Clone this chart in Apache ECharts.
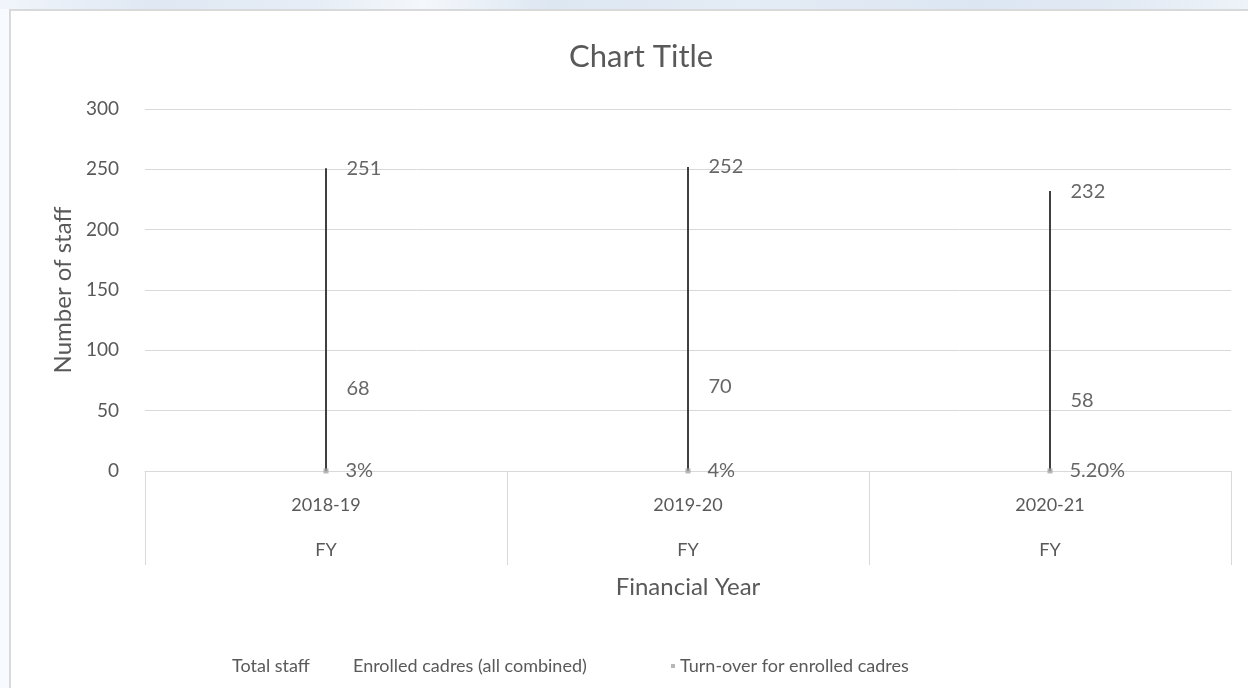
<!DOCTYPE html>
<html>
<head>
<meta charset="utf-8">
<script src="https://cdn.jsdelivr.net/npm/echarts@6/dist/echarts.min.js"></script>
<style>
  html, body { margin: 0; padding: 0; width: 1248px; height: 688px; overflow: hidden; }
  body {
    background: #f7faff;
    position: relative;
  }
  #band {
    position: absolute; left: 0; top: 0; width: 1248px; height: 9px;
    background: linear-gradient(90deg, #f1f5fb 0%, #dfe8f3 12%, #e6edf6 25%, #f4f7fb 34%, #dde7f2 44%, #e4ecf5 60%, #dce6f2 78%, #e2eaf4 90%, #eef3f9 100%);
  }
  #frame {
    position: absolute; left: 9px; top: 9px; right: 0; bottom: 0;
    background: #ffffff;
    border-top: 2px solid #d9d9d9;
    border-left: 2px solid #d9d9d9;
  }
  #chart { position: absolute; left: 0; top: 0; width: 1248px; height: 688px; }
</style>
</head>
<body>
<div id="band"></div>
<div id="frame"></div>
<div id="chart"></div>
<script>
// Financial years and the outer "FY" grouping row
const years = ['2018-19', '2019-20', '2020-21'];
const yearGroups = ['FY', 'FY', 'FY'];

// Staff counts per year
const totalStaff = [251, 252, 232];
const enrolledCadres = [68, 70, 58];

// Turn-over rate for enrolled cadres (fraction) and decimals shown in its labels
const turnover = [0.03, 0.04, 0.052];
const turnoverDecimals = [0, 0, 2];

// Value axis ticks
const yTicks = [0, 50, 100, 150, 200, 250, 300];

const FONT = 'Lato, "Open Sans", sans-serif';
const TEXT = '#595959';
const LABEL = '#404040';
const GRID = '#d9d9d9';

// High-low line per year: from lowest to highest of the three series
const hiLo = years.map((_, i) => {
  const vals = [totalStaff[i], enrolledCadres[i], turnover[i]];
  return [i, Math.min.apply(null, vals), Math.max.apply(null, vals)];
});

const chart = echarts.init(document.getElementById('chart'), null, { renderer: 'canvas' });

const labelStyle = {
  show: true,
  position: 'right',
  distance: 20,
  color: LABEL,
  fontFamily: FONT,
  fontSize: 20
};

const legendText = { fontFamily: FONT, fontSize: 18, color: TEXT };

const option = {
  animation: false,
  backgroundColor: 'transparent',
  textStyle: { fontFamily: FONT },
  title: {
    text: 'Chart Title',
    left: 564,
    top: 36,
    textStyle: { fontFamily: FONT, fontSize: 31, fontWeight: 'normal', color: TEXT }
  },
  legend: [
    {
      data: [{ name: 'Total staff', icon: 'none' }],
      left: 222, top: 652, itemWidth: 0, itemHeight: 5, itemGap: 0,
      textStyle: legendText,
      selectedMode: false
    },
    {
      data: [{ name: 'Enrolled cadres (all combined)', icon: 'none' }],
      left: 343, top: 652, itemWidth: 0, itemHeight: 5, itemGap: 0,
      textStyle: legendText,
      selectedMode: false
    },
    {
      data: [{ name: 'Turn-over for enrolled cadres', icon: 'rect' }],
      left: 666, top: 652, itemWidth: 4, itemHeight: 4, itemGap: 0,
      textStyle: legendText,
      selectedMode: false
    }
  ],
  grid: { left: 145, right: 17, top: 109, bottom: 217, containLabel: false },
  xAxis: [
    {
      type: 'category',
      data: years,
      boundaryGap: true,
      axisLine: { show: true, lineStyle: { color: GRID, width: 1 } },
      axisTick: { show: true, length: 94, interval: 0, lineStyle: { color: GRID, width: 1 } },
      axisLabel: { margin: 25, fontFamily: FONT, fontSize: 18, color: TEXT, interval: 0 },
      splitLine: { show: false }
    },
    {
      type: 'category',
      data: yearGroups,
      position: 'bottom',
      gridIndex: 0,
      boundaryGap: true,
      axisLine: { show: false },
      axisTick: { show: false },
      axisLabel: { margin: 70, fontFamily: FONT, fontSize: 18, color: TEXT, interval: 0 },
      splitLine: { show: false },
      name: 'Financial Year',
      nameLocation: 'middle',
      nameGap: 104,
      nameTextStyle: { fontFamily: FONT, fontSize: 24, color: TEXT }
    }
  ],
  yAxis: {
    type: 'value',
    min: yTicks[0],
    max: yTicks[yTicks.length - 1],
    interval: yTicks[1] - yTicks[0],
    axisLine: { show: false },
    axisTick: { show: false },
    axisLabel: { margin: 26, fontFamily: FONT, fontSize: 19, color: TEXT },
    splitLine: { lineStyle: { color: GRID, width: 1 } },
    name: 'Number of staff',
    nameLocation: 'middle',
    nameGap: 70,
    nameTextStyle: { fontFamily: FONT, fontSize: 24, color: TEXT }
  },
  series: [
    {
      name: 'hi-lo',
      type: 'custom',
      xAxisIndex: 0,
      data: hiLo,
      encode: { x: 0, y: [1, 2] },
      silent: true,
      z: 2,
      renderItem: function (params, api) {
        const p1 = api.coord([api.value(0), api.value(1)]);
        const p2 = api.coord([api.value(0), api.value(2)]);
        return {
          type: 'line',
          shape: { x1: p1[0], y1: p1[1], x2: p2[0], y2: p2[1] },
          style: { stroke: '#404040', lineWidth: 2 }
        };
      }
    },
    {
      name: 'Total staff',
      type: 'scatter',
      xAxisIndex: 0,
      data: totalStaff,
      symbol: 'circle',
      symbolSize: 1,
      itemStyle: { color: 'rgba(0,0,0,0)' },
      label: labelStyle,
      silent: true,
      z: 3
    },
    {
      name: 'Enrolled cadres (all combined)',
      type: 'scatter',
      xAxisIndex: 0,
      data: enrolledCadres,
      symbol: 'circle',
      symbolSize: 1,
      itemStyle: { color: 'rgba(0,0,0,0)' },
      label: labelStyle,
      silent: true,
      z: 3
    },
    {
      name: 'Turn-over for enrolled cadres',
      type: 'scatter',
      xAxisIndex: 0,
      data: turnover,
      symbol: 'rect',
      symbolSize: 5,
      itemStyle: { color: '#a5a5a5' },
      label: Object.assign({}, labelStyle, {
        distance: 17,
        formatter: function (p) {
          return (p.value * 100).toFixed(turnoverDecimals[p.dataIndex]) + '%';
        }
      }),
      silent: true,
      z: 4
    }
  ]
};

chart.setOption(option);
</script>
</body>
</html>
